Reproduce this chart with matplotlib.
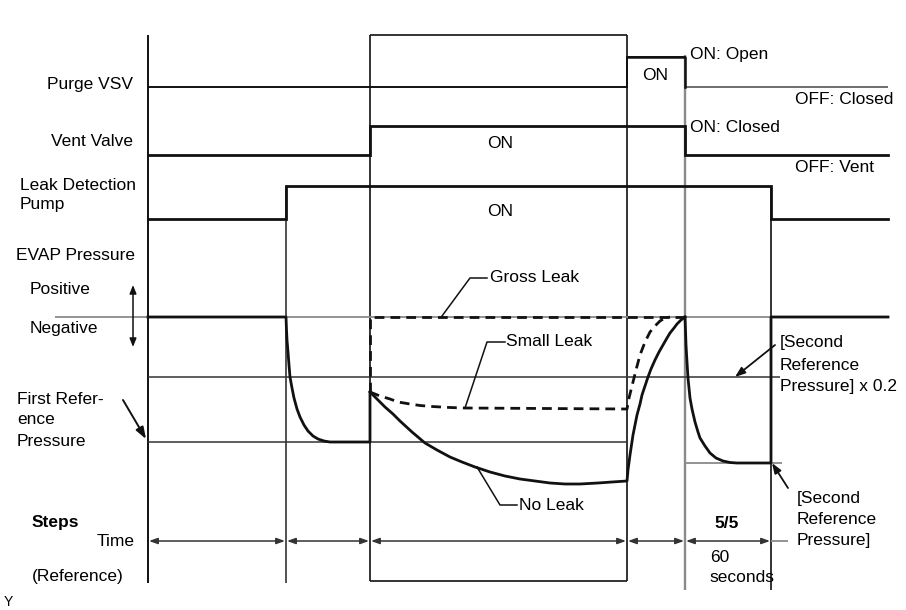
import matplotlib.pyplot as plt

plt.rcParams['font.family'] = ['Liberation Sans', 'DejaVu Sans']

# step boundaries along the time axis (sheet units, left to right)
edges = [148, 286, 370, 627, 685, 771, 888]
# on/off state of each signal inside each step
purge_on = [0, 0, 0, 1, 0, 0]
vent_on = [0, 0, 1, 1, 0, 0]
pump_on = [0, 1, 1, 1, 1, 0]

# EVAP pressure levels (sheet units, larger = more negative)
p_zero = 317
p_first = 442
p_ratio = 377
p_second = 463

# EVAP pressure traces
pd_x = [148, 286, 286.5, 287, 288, 289, 290, 292, 294, 297, 300, 304, 308,
        313, 318, 324, 330, 370, 370]
pd_y = [317, 317, 330, 340, 352, 365, 377, 388, 398, 409, 417, 425, 431,
        436, 439, 441, 442, 442, 392]
noleak_x = [370, 378, 385, 393, 400, 412, 425, 437, 450, 462, 475, 490, 505,
            520, 535, 550, 565, 580, 598, 612, 627,
            628, 630, 633, 635, 637, 640, 642, 645, 648, 651, 655, 659, 663,
            667, 670, 674, 677, 681, 685]
noleak_y = [392, 400, 407, 414, 421, 432, 443, 450, 457, 462, 467, 472, 476,
            479, 481, 483, 484, 484, 483, 482, 481,
            470, 455, 435, 425, 415, 404, 395, 386, 377, 369, 360, 352, 345,
            338, 333, 328, 324, 320, 317]
small_x = [370, 380, 390, 398, 410, 420, 432, 450, 465, 627,
           629, 631, 633, 636, 640, 645, 650, 655, 660, 665, 670]
small_y = [392, 396, 399, 402, 404, 405.5, 406.5, 407.5, 408, 409,
           398, 390, 382, 370, 355, 342, 332, 326, 321, 318, 317]
gross_x = [370, 370, 685]
gross_y = [392, 317, 317]
check_x = [685, 685.5, 686, 687, 688, 690, 692, 695, 698, 700, 705, 710,
           716, 723, 730, 737, 771, 771, 888]
check_y = [317, 330, 345, 362, 378, 398, 409, 422, 432, 438, 446, 453,
           458, 461, 462.5, 463, 463, 317, 317]

K = '#111111'
G = '#8a8a8a'
FS = 12.5

fig = plt.figure(figsize=(9.06, 6.10), dpi=100)
ax = fig.add_axes([0, 0, 1, 1])
ax.set_xlim(0, 906)
ax.set_ylim(610, 0)
ax.axis('off')


def step_signal(states, low, high, lw):
    ys = [low - s * (low - high) for s in states]
    xs = edges[:len(states) + 1]
    ax.step(xs, ys + [ys[-1]], where='post', color=K, lw=lw,
            solid_joinstyle='miter')


# vertical step markers and box
ax.vlines(148, 35, 583, color=K, lw=1.4)
ax.vlines(286, 186, 583, color='#333333', lw=1.2)
ax.vlines([370, 627], 35, 581, color=K, lw=1.2)
ax.hlines([35, 581], 370, 627, color=K, lw=1.2)
ax.vlines(685, 55, 590, color=G, lw=1.7)
ax.vlines(771, 186, 590, color=K, lw=1.2)

# signal traces
ax.hlines(87, 685, 888, color='#555555', lw=1.2)
step_signal(purge_on[:4], 87, 57, 1.4)
ax.plot([627, 685, 685], [57, 57, 87], color=K, lw=1.8)
step_signal(vent_on, 155, 126, 2.0)
step_signal(pump_on, 219, 186, 2.0)

# pressure reference lines
ax.hlines(p_zero, 55, 888, color=G, lw=1.3)
ax.hlines(p_ratio, 148, 780, color='#333333', lw=1.1)
ax.hlines(p_first, 148, 627, color='#333333', lw=1.1)
ax.hlines(p_second, 685, 782, color=G, lw=1.3)

# pressure traces
ax.plot(pd_x, pd_y, color=K, lw=2.0)
ax.plot(noleak_x, noleak_y, color=K, lw=2.0)
ax.plot(small_x, small_y, color=K, lw=2.0, ls=(0, (3.5, 2.2)))
ax.plot(gross_x, gross_y, color=K, lw=2.0, ls=(0, (3.5, 2.2)))
ax.plot(check_x, check_y, color=K, lw=2.0)

# leader lines for the traces
ax.plot([442, 470, 487], [316, 278, 278], color=K, lw=1.1)
ax.plot([465, 487, 505], [408, 342, 342], color=K, lw=1.1)
ax.plot([477, 500, 517], [467, 505, 505], color=K, lw=1.1)
ax.text(490, 277, 'Gross Leak', fontsize=FS, va='center')
ax.text(506, 341, 'Small Leak', fontsize=FS, va='center')
ax.text(519, 505, 'No Leak', fontsize=FS, va='center')

# time row
arrow = dict(arrowstyle='<|-|>,head_length=0.5,head_width=0.18', color='#333333',
             lw=1.1, shrinkA=0, shrinkB=0)
for a, b in zip(edges[:-2], edges[1:-1]):
    ax.annotate('', xy=(a + 1, 541), xytext=(b - 1, 541), arrowprops=arrow)
ax.hlines(541, 771, 788, color=G, lw=1.3)

# left labels
ax.text(133, 85, 'Purge VSV', fontsize=FS, ha='right', va='center')
ax.text(133, 142, 'Vent Valve', fontsize=FS, ha='right', va='center')
ax.text(20, 185, 'Leak Detection', fontsize=FS, va='center')
ax.text(20, 205, 'Pump', fontsize=FS, va='center')
ax.text(16, 255, 'EVAP Pressure', fontsize=FS, va='center')
ax.text(30, 289, 'Positive', fontsize=FS, va='center')
ax.text(30, 328, 'Negative', fontsize=FS, va='center')
ax.annotate('', xy=(133, 285), xytext=(133, 347),
            arrowprops=dict(arrowstyle='<|-|>,head_length=0.5,head_width=0.2',
                            color=K, lw=1.1, shrinkA=0, shrinkB=0))
ax.text(17, 399, 'First Refer-', fontsize=FS, va='center')
ax.text(17, 420, 'ence', fontsize=FS, va='center')
ax.text(17, 441, 'Pressure', fontsize=FS, va='center')
ax.annotate('', xy=(146, 439), xytext=(123, 400),
            arrowprops=dict(arrowstyle='-|>,head_length=0.7,head_width=0.25',
                            color=K, lw=1.4, shrinkA=0, shrinkB=0))
ax.text(32, 523, 'Steps', fontsize=FS, fontweight='bold', va='center')
ax.text(135, 541, 'Time', fontsize=FS, ha='right', va='center')
ax.text(32, 577, '(Reference)', fontsize=FS, va='center')
ax.text(4, 602, 'Y', fontsize=10, va='center')

# signal state labels
ax.text(655, 75, 'ON', fontsize=FS, ha='center', va='center')
ax.text(500, 144, 'ON', fontsize=FS, ha='center', va='center')
ax.text(500, 211, 'ON', fontsize=FS, ha='center', va='center')
ax.text(690, 55, 'ON: Open', fontsize=FS, va='center')
ax.text(795, 99, 'OFF: Closed', fontsize=FS, va='center')
ax.text(690, 127, 'ON: Closed', fontsize=FS, va='center')
ax.text(795, 168, 'OFF: Vent', fontsize=FS, va='center')

# right annotations
ax.text(780, 343, '[Second', fontsize=FS, va='center')
ax.text(780, 365, 'Reference', fontsize=FS, va='center')
ax.text(780, 386, 'Pressure] x 0.2', fontsize=FS, va='center')
ax.annotate('', xy=(735, 377), xytext=(775, 345),
            arrowprops=dict(arrowstyle='-|>,head_length=0.6,head_width=0.22',
                            color=K, lw=1.3, shrinkA=0, shrinkB=0))
ax.text(797, 499, '[Second', fontsize=FS, va='center')
ax.text(797, 520, 'Reference', fontsize=FS, va='center')
ax.text(797, 541, 'Pressure]', fontsize=FS, va='center')
ax.annotate('', xy=(772, 463), xytext=(788, 488),
            arrowprops=dict(arrowstyle='-|>,head_length=0.6,head_width=0.22',
                            color=K, lw=1.3, shrinkA=0, shrinkB=0))
ax.text(727, 523, '5/5', fontsize=FS, fontweight='bold', ha='center', va='center')
ax.text(710, 558, '60', fontsize=FS, va='center')
ax.text(709, 578, 'seconds', fontsize=FS, va='center')

fig.savefig('out.png', dpi=100)
